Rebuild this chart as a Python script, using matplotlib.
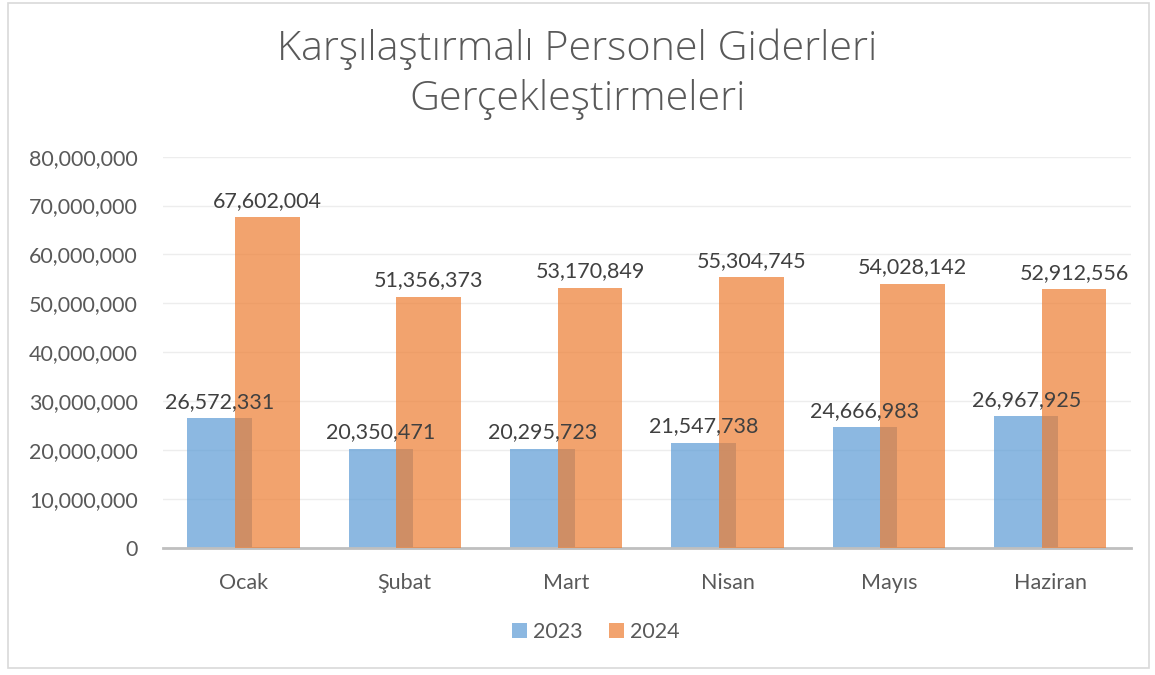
import numpy as np
import matplotlib
matplotlib.use("Agg")
from matplotlib import pyplot as plt
from matplotlib.patches import Rectangle

months = ["Ocak", "Şubat", "Mart", "Nisan", "Mayıs", "Haziran"]
y2023 = [26572331, 20350471, 20295723, 21547738, 24666983, 26967925]
y2024 = [67602004, 51356373, 53170849, 55304745, 54028142, 52912556]
yticks = [0, 10000000, 20000000, 30000000, 40000000, 50000000, 60000000, 70000000, 80000000]

plt.rcParams['font.family'] = ['Lato', 'DejaVu Sans']
txt = '#595959'

fig = plt.figure(figsize=(11.55, 6.75), dpi=100)
fig.patches.append(Rectangle((0.007, 0.01), 0.988, 0.985, transform=fig.transFigure,
                             fill=False, edgecolor='#D9D9D9', linewidth=1.2))
ax = fig.add_axes([0.141, 0.188, 0.838, 0.58])

x = np.arange(len(months))
w = 0.4
off = 0.148
ax.bar(x - off, y2023, w, color='#5B9BD5', alpha=0.7, label='2023', zorder=2)
ax.bar(x + off, y2024, w, color='#ED7D31', alpha=0.7, label='2024', zorder=3)

for i in range(len(months)):
    ax.text(x[i] - off, y2023[i] + 1300000, f"{y2023[i]:,}", ha='center', va='bottom',
            fontsize=15.5, color='#404040', zorder=4)
    ax.text(x[i] + off, y2024[i] + 1300000, f"{y2024[i]:,}", ha='center', va='bottom',
            fontsize=15.5, color='#404040', zorder=4)

ax.set_xlim(-0.5, len(months) - 0.5)
ax.set_ylim(0, 80000000)
ax.set_yticks(yticks)
ax.set_yticklabels([f"{v:,}" for v in yticks], fontsize=15.5, color=txt)
ax.set_xticks(x)
ax.set_xticklabels(months, fontsize=15.5, color=txt)
ax.tick_params(axis='both', length=0)
ax.tick_params(axis='x', pad=18)
ax.tick_params(axis='y', pad=18)
ax.grid(axis='y', color='#EDEDED', linewidth=1, zorder=0)
for s in ['top', 'right', 'left']:
    ax.spines[s].set_visible(False)
ax.spines['bottom'].set_color('#BFBFBF')
ax.spines['bottom'].set_linewidth(2)

fig.suptitle("Karşılaştırmalı Personel Giderleri\nGerçekleştirmeleri", y=0.958,
             fontsize=29.8, color=txt, fontweight='light', linespacing=1.3,
             family=['Open Sans', 'DejaVu Sans'])

fig.legend(loc='center', bbox_to_anchor=(0.516, 0.063), ncol=2, frameon=False,
           fontsize=15.5, labelcolor=txt, handlelength=0.7, handleheight=0.7,
           handletextpad=0.3, columnspacing=1.2)

fig.savefig("out.png", dpi=100)
